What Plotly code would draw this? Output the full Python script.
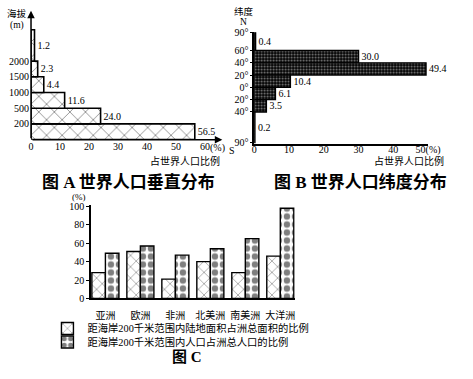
import plotly.graph_objects as go
import numpy as np

W, H = 473, 379

# ---------------- data ----------------
# Chart A: world population by elevation
elev_ticks = [200, 500, 1000, 1500, 2000]
share_elev = [56.5, 24.0, 11.6, 4.4, 2.3, 1.2]

# Chart B: world population by latitude
lat_edges = [90, 60, 40, 20, 0, -20, -40, -90]
share_lat = [0.4, 30.0, 49.4, 10.4, 6.1, 3.5, 0.2]
lat_tick_vals = [90, 60, 40, 20, 0, -20, -40, -90]
lat_tick_text = ['90°', '60°', '40°', '20°', '0°', '20°', '40°', '90°']

# Chart C: coastal (within 200 km) share by continent
continents = ['亚洲', '欧洲', '非洲', '北美洲', '南美洲', '大洋洲']
coast_area = [28, 51, 21, 40, 28, 46]
coast_pop = [49, 57, 47, 54, 65, 98]

# ---------------- helpers ----------------
def px(x):
    return x / W

def py(y):
    return 1 - y / H

SERIF = "Liberation Serif, Noto Sans CJK SC"
CJK = "Noto Sans CJK SC"

# band geometry for chart A (elevation bands between ticks; top band open)
lo_A = np.arange(len(share_elev), dtype=float)
hi_A = lo_A + 1
hi_A[-1] += 1
yc_A = (lo_A + hi_A) / 2
wd_A = hi_A - lo_A

# band geometry for chart B from latitude edges
le = np.array(lat_edges, dtype=float)
yc_B = (le[:-1] + le[1:]) / 2
wd_B = le[:-1] - le[1:]

fig = go.Figure()

fig.add_trace(go.Bar(
    x=share_elev, y=yc_A, width=wd_A, base=0, orientation='h',
    xaxis='x', yaxis='y', showlegend=False,
    marker=dict(color='white', line=dict(color='black', width=1.6),
                pattern=dict(shape='x', size=11, solidity=0.14,
                             fgcolor='black', bgcolor='white')),
    texttemplate='%{x:.1f}', textposition='outside', constraintext='none',
    cliponaxis=False, textfont=dict(family=SERIF, size=10, color='black'),
    hoverinfo='skip'))

fig.add_trace(go.Bar(
    x=share_lat, y=yc_B, width=wd_B, base=0, orientation='h',
    xaxis='x2', yaxis='y2', showlegend=False,
    marker=dict(color='black', line=dict(color='black', width=1.4),
                pattern=dict(shape='.', size=3, solidity=0.35,
                             fgcolor='white', bgcolor='black')),
    texttemplate='%{x:.1f}', textposition='outside', constraintext='none',
    cliponaxis=False, textfont=dict(family=SERIF, size=10, color='black'),
    hoverinfo='skip'))

fig.add_trace(go.Bar(
    x=continents, y=coast_area, xaxis='x3', yaxis='y3',
    name='距海岸200千米范围内陆地面积占洲总面积的比例', legend='legend',
    marker=dict(color='white', line=dict(color='black', width=1.4),
                pattern=dict(shape='x', size=8, solidity=0.15,
                             fgcolor='black', bgcolor='white')),
    hoverinfo='skip'))

fig.add_trace(go.Bar(
    x=continents, y=coast_pop, xaxis='x3', yaxis='y3',
    name='距海岸200千米范围内人口占洲总人口的比例', legend='legend2',
    marker=dict(color='white', line=dict(color='black', width=1.4),
                pattern=dict(shape='.', size=8, solidity=0.5,
                             fgcolor='black', bgcolor='white')),
    hoverinfo='skip'))

tickfont = dict(family=SERIF, size=10, color='black')
legfont = dict(family=SERIF, size=10.3, color='black')

fig.update_layout(
    width=W, height=H, margin=dict(l=0, r=0, t=0, b=0),
    paper_bgcolor='white', plot_bgcolor='white',
    barmode='group', bargap=0.227, bargroupgap=0,
    font=dict(family=SERIF, color='black'),
    xaxis=dict(domain=[px(29), px(227)], range=[0, 66], anchor='y',
               tickvals=[0, 10, 20, 30, 40, 50, 60],
               ticktext=['0', '10', '20', '30', '40', '50', '60'],
               showline=False, showgrid=False, zeroline=False, ticks='',
               tickfont=tickfont, ticklabelstandoff=-1),
    yaxis=dict(domain=[py(138), py(5)], range=[0, 8.2], anchor='x',
               tickvals=[1, 2, 3, 4, 5], ticktext=[str(v) for v in elev_ticks],
               showline=False, showgrid=False, zeroline=False, ticks='',
               tickfont=tickfont, ticklabelstandoff=1),
    xaxis2=dict(domain=[px(260), px(440)], range=[0, 50], anchor='y2',
                tickvals=[0, 10, 20, 30, 40, 50],
                ticktext=['0', '10', '20', '30', '40', '50(%)'],
                showline=True, linecolor='black', linewidth=1.5,
                showgrid=False, zeroline=False, ticks='',
                tickfont=tickfont, ticklabelstandoff=-5),
    yaxis2=dict(domain=[py(143), py(27)], range=[-93, 90], anchor='x2',
                tickvals=lat_tick_vals, ticktext=lat_tick_text,
                showline=True, linecolor='black', linewidth=1.5,
                showgrid=False, zeroline=False, ticks='outside', ticklen=2,
                tickcolor='black', tickfont=tickfont),
    xaxis3=dict(domain=[px(91), px(302)], range=[-0.414, 5.414], anchor='y3',
                type='category', showline=True, linecolor='black', linewidth=1.5,
                showgrid=False, zeroline=False, ticks='', tickangle=0,
                tickfont=dict(family=CJK, size=10, color='black'),
                ticklabelstandoff=7),
    yaxis3=dict(domain=[py(302), py(205)], range=[0, 102], anchor='x3',
                tickvals=[0, 20, 40, 60, 80, 100],
                showline=True, linecolor='black', linewidth=1.5,
                showgrid=False, zeroline=False, ticks='outside', ticklen=3,
                tickcolor='black', tickfont=tickfont),
    legend=dict(x=px(46), y=py(333), xanchor='left', yanchor='middle',
                font=legfont, bgcolor='rgba(0,0,0,0)'),
    legend2=dict(x=px(46), y=py(347), xanchor='left', yanchor='middle',
                 font=legfont, bgcolor='rgba(0,0,0,0)'),
    showlegend=True,
)

ann = []
def txt(x, y, s, size=10, xanchor='center', bold=False, family=SERIF):
    ann.append(dict(x=px(x), y=py(y), xref='paper', yref='paper', text=s,
                    showarrow=False, xanchor=xanchor, yanchor='middle',
                    font=dict(family=family, size=size, color='black',
                              weight='bold' if bold else 'normal')))

# axis arrows for chart A
ann.append(dict(x=0, y=8.2, ax=0, ay=0, xref='x', yref='y', axref='x', ayref='y',
                text='', showarrow=True, arrowhead=2, arrowsize=1, arrowwidth=1.5,
                arrowcolor='black'))
ann.append(dict(x=66, y=0, ax=0, ay=0, xref='x', yref='y', axref='x', ayref='y',
                text='', showarrow=True, arrowhead=2, arrowsize=1, arrowwidth=1.5,
                arrowcolor='black'))

txt(15, 8, '海拔', 9.5)
txt(15, 20, '(m)', 9.5)
ann.append(dict(x=60, y=py(147), xref='x', yref='paper', text='(%)', showarrow=False,
                xanchor='left', xshift=3, yanchor='middle',
                font=dict(family=SERIF, size=10, color='black')))
txt(227, 160, '占世界人口比例', 10, xanchor='right')
txt(130, 182, '图 A 世界人口垂直分布', 17, bold=True)

txt(249, 6, '纬度', 9.5)
txt(249, 17, 'N', 9.5)
txt(237, 149, 'S', 10)
txt(458, 160, '占世界人口比例', 10, xanchor='right')
txt(370, 182, '图 B 世界人口纬度分布', 17, bold=True)

txt(79, 197.5, '(%)', 9)
txt(190, 362, '图 C', 15, bold=True)

fig.update_layout(annotations=ann)

fig.write_html("out.html", config={'displayModeBar': False},
               post_script="document.body.style.margin='0';document.body.style.padding='0';document.body.style.overflow='hidden';")
